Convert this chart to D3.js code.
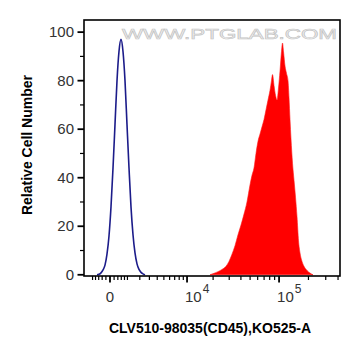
<!DOCTYPE html>
<html>
<head>
<meta charset="utf-8">
<script src="https://cdn.jsdelivr.net/npm/d3@7"></script>
<style>
  html, body { margin: 0; padding: 0; background: #fff; }
  svg { display: block; }
  text { font-family: "Liberation Sans", Arial, sans-serif; }
</style>
</head>
<body>
<svg id="chart" width="361" height="356"></svg>
<script>
// ---- data ----
// blue histogram (control): fluorescence value, relative count
const blueX = [-706, -583, -465, -354, -247, -145, -47, 47, 145, 247, 354, 465, 583, 706, 835, 969, 1112, 1259, 1415, 1577, 1748, 1925, 2113, 2307, 2513];
const blueY = [0, 0.2, 0.8, 2, 4, 8.5, 16, 28, 44, 62, 80, 92, 97, 92, 80, 62, 44, 28, 16.5, 9, 4.5, 2.2, 1, 0.4, 0];
// red histogram (stained): fluorescence value, relative count
const redX = [18466, 20462, 22652, 25054, 27690, 29834, 32136, 34604, 37246, 40082, 43126, 46380, 49878, 52350, 54938, 57648, 60492, 63470, 66588, 69854, 73276, 76860, 80614, 83548, 85564, 88674, 91886, 95218, 98670, 102244, 105946, 108480, 111084, 115102, 119262, 123556, 126516, 129532, 132628, 137410, 142362, 147488, 152780, 158276, 163968, 171870, 180114, 193282, 207420, 222560];
const redY = [0, 0.6, 1.3, 2.2, 3.5, 5.5, 8.5, 12, 16.5, 20.5, 25, 30, 37, 41, 44, 50, 55, 58, 61, 64, 68, 72, 76, 80, 82.5, 78, 74, 72, 77, 84, 92, 95.5, 92, 86, 83, 80, 73, 64, 56, 46, 39, 32, 24, 14, 9, 5.5, 3.5, 1.8, 0.7, 0];
// axis ticks
const yMajor = [0, 20, 40, 60, 80, 100];
const yMinor = [10, 30, 50, 70, 90];
const xMajor = [0, 10000, 100000];
const xMajorLabels = [["0", ""], ["10", "4"], ["10", "5"]];
const xMinor = [-1000, -800, -600, -400, -200, 200, 400, 600, 800, 1000, 2000, 3000, 4000, 5000, 6000, 7000, 8000, 9000,
                20000, 30000, 40000, 50000, 60000, 70000, 80000, 90000, 200000, 300000, 400000];
const xTitle = "CLV510-98035(CD45),KO525-A";
const yTitle = "Relative Cell Number";
const watermark = "WWW.PTGLAB.COM";

// ---- layout ----
const L = 84, R = 340, T = 20, B = 276;
const svg = d3.select("#chart");

const x = d3.scaleSymlog().constant(2000).domain([-1661, 418700]).range([L, R]);
const y = d3.scaleLinear().domain([-0.5, 105]).range([B, T]);

// watermark
svg.append("text")
  .attr("x", 122).attr("y", 38.5)
  .attr("textLength", 215).attr("lengthAdjust", "spacingAndGlyphs")
  .attr("font-size", 14)
  .attr("fill", "#f2f2f2").attr("stroke", "#c4c4c4").attr("stroke-width", 0.6)
  .text(watermark);

// red filled histogram
const redData = redX.map((v, i) => [v, redY[i]]);
svg.append("path")
  .datum(redData)
  .attr("fill", "#ff0000")
  .attr("stroke", "#ff1a1a").attr("stroke-width", 0.6)
  .attr("d", d3.area().x(d => x(d[0])).y0(y(0)).y1(d => y(d[1])).curve(d3.curveMonotoneX));

// blue line histogram
const blueData = blueX.map((v, i) => [v, blueY[i]]);
svg.append("path")
  .datum(blueData)
  .attr("fill", "none")
  .attr("stroke", "#1c1c8a").attr("stroke-width", 1.6)
  .attr("d", d3.line().x(d => x(d[0])).y(d => y(d[1])).curve(d3.curveMonotoneX));

// frame
svg.append("rect")
  .attr("x", L).attr("y", T).attr("width", R - L).attr("height", B - T)
  .attr("fill", "none").attr("stroke", "#000").attr("stroke-width", 1.6);

// y axis ticks
const gy = svg.append("g");
gy.selectAll("line.maj").data(yMajor).join("line")
  .attr("x1", L - 6.5).attr("x2", L).attr("y1", d => y(d)).attr("y2", d => y(d))
  .attr("stroke", "#000").attr("stroke-width", 1.8);
gy.selectAll("line.min").data(yMinor).join("line")
  .attr("class", "min")
  .attr("x1", L - 4).attr("x2", L).attr("y1", d => y(d)).attr("y2", d => y(d))
  .attr("stroke", "#000").attr("stroke-width", 1.2);
gy.selectAll("text").data(yMajor).join("text")
  .attr("x", L - 10).attr("y", d => y(d) + 5.2)
  .attr("text-anchor", "end").attr("font-size", 15).attr("fill", "#333")
  .text(d => d);

// x axis ticks
const gx = svg.append("g");
gx.selectAll("line.maj").data(xMajor).join("line")
  .attr("x1", d => x(d)).attr("x2", d => x(d)).attr("y1", B).attr("y2", B + 6.5)
  .attr("stroke", "#000").attr("stroke-width", 1.8);
gx.selectAll("line.min").data(xMinor).join("line")
  .attr("class", "min")
  .attr("x1", d => x(d)).attr("x2", d => x(d)).attr("y1", B).attr("y2", B + 4)
  .attr("stroke", "#000").attr("stroke-width", 1.2);
xMajor.forEach((v, i) => {
  const [base, sup] = xMajorLabels[i];
  if (!sup) {
    gx.append("text").attr("x", x(v)).attr("y", 302)
      .attr("text-anchor", "middle").attr("font-size", 15).attr("fill", "#333").text(base);
  } else {
    const t = gx.append("text").attr("x", x(v) - 2).attr("y", 302)
      .attr("font-size", 15).attr("fill", "#333");
    t.append("tspan").text(base);
    t.append("tspan").attr("font-size", 12).attr("dx", 1).attr("dy", -9).text(sup);
  }
});

// axis titles
svg.append("text")
  .attr("x", (L + R) / 2 - 2).attr("y", 333)
  .attr("text-anchor", "middle").attr("font-size", 14).attr("font-weight", "bold").attr("fill", "#000")
  .text(xTitle);
svg.append("text")
  .attr("transform", "translate(32,145) rotate(-90)")
  .attr("text-anchor", "middle").attr("font-size", 14).attr("font-weight", "bold").attr("fill", "#000")
  .text(yTitle);
</script>
</body>
</html>
